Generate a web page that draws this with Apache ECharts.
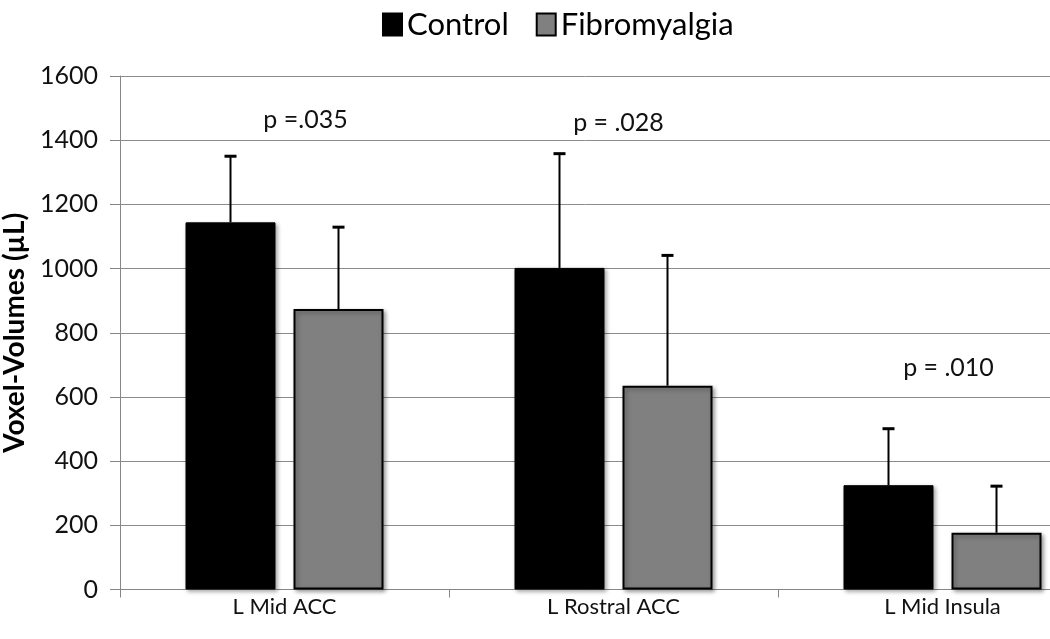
<!DOCTYPE html>
<html>
<head>
<meta charset="utf-8">
<script src="https://cdn.jsdelivr.net/npm/echarts@6/dist/echarts.min.js"></script>
<style>html,body{margin:0;padding:0;background:#fff;}#c{width:1050px;height:639px;}</style>
</head>
<body>
<div id="c"></div>
<script>
const categories = ['L Mid ACC', 'L Rostral ACC', 'L Mid Insula'];
const controlValues = [1144, 1002, 325];
const controlErrorTop = [1350, 1358, 501];
const fibroValues = [874, 635, 177];
const fibroErrorTop = [1129, 1041, 322];
const pLabels = ['p =.035', 'p = .028', 'p = .010'];
const pLabelY = [1462, 1453, 690];
const yTicks = { min: 0, max: 1600, interval: 200 };

const FONT = 'Lato, "Open Sans", sans-serif';
const BAR_W = 90;
const GAP = 18;
const OFF = (BAR_W + GAP) / 2;
const P_OFFSET = [21, 5, 6];

function errorSeries(name, tops, values, dir) {
  return {
    type: 'custom',
    name: name + ' err',
    silent: true,
    z: 5,
    data: tops.map((t, i) => [i, values[i], t]),
    renderItem: function (params, api) {
      const base = api.coord([api.value(0), api.value(1)]);
      const top = api.coord([api.value(0), api.value(2)]);
      const x = base[0] + dir * OFF;
      return {
        type: 'group',
        children: [
          { type: 'line', shape: { x1: x, y1: base[1], x2: x, y2: top[1] }, style: { stroke: '#000', lineWidth: 2 } },
          { type: 'line', shape: { x1: x - 6, y1: top[1], x2: x + 6, y2: top[1] }, style: { stroke: '#000', lineWidth: 3 } }
        ]
      };
    }
  };
}

const chart = echarts.init(document.getElementById('c'), null, { renderer: 'canvas' });
chart.setOption({
  animation: false,
  backgroundColor: '#fff',
  textStyle: { fontFamily: FONT },
  legend: {
    top: 4,
    left: 377,
    icon: 'rect',
    itemWidth: 19,
    itemHeight: 22,
    itemGap: 27,
    data: ['Control', 'Fibromyalgia'],
    textStyle: { fontFamily: FONT, fontSize: 31, color: '#000' }
  },
  grid: { left: 120, width: 987, top: 76, bottom: 49.5, containLabel: false, outerBoundsMode: 'none' },
  xAxis: {
    type: 'category',
    data: categories,
    axisLine: { lineStyle: { color: '#868686', width: 1 } },
    axisTick: { show: true, length: 8, lineStyle: { color: '#868686' } },
    axisLabel: { fontFamily: FONT, fontSize: 22, color: '#111', margin: 6, hideOverlap: false }
  },
  yAxis: {
    type: 'value',
    min: yTicks.min,
    max: yTicks.max,
    interval: yTicks.interval,
    name: 'Voxel-Volumes (µL)',
    nameLocation: 'middle',
    nameGap: 88,
    nameTextStyle: { fontFamily: FONT, fontSize: 28, fontWeight: 'bold', color: '#000' },
    axisLine: { show: true, lineStyle: { color: '#868686', width: 1 } },
    axisTick: { show: true, length: 10, lineStyle: { color: '#868686' } },
    splitLine: { lineStyle: { color: '#8c8c8c', width: 1 } },
    axisLabel: { fontFamily: FONT, fontSize: 25, color: '#111', margin: 22, formatter: (v) => String(v) }
  },
  series: [
    {
      name: 'Control', type: 'bar', data: controlValues, barWidth: BAR_W, barGap: (GAP / BAR_W * 100) + '%',
      itemStyle: { color: '#000', borderColor: '#000', borderWidth: 1, shadowBlur: 4, shadowColor: 'rgba(0,0,0,0.35)', shadowOffsetX: 2, shadowOffsetY: 2 }
    },
    {
      name: 'Fibromyalgia', type: 'bar', data: fibroValues, barWidth: BAR_W,
      itemStyle: { color: '#808080', borderColor: '#000', borderWidth: 2, shadowBlur: 4, shadowColor: 'rgba(0,0,0,0.35)', shadowOffsetX: 2, shadowOffsetY: 2 }
    },
    errorSeries('Control', controlErrorTop, controlValues, -1),
    errorSeries('Fibromyalgia', fibroErrorTop, fibroValues, 1),
    {
      type: 'custom',
      name: 'p',
      silent: true,
      z: 6,
      data: pLabelY.map((y, i) => [i, y]),
      renderItem: function (params, api) {
        const pt = api.coord([api.value(0), api.value(1)]);
        const i = params.dataIndex;
        return {
          type: 'text',
          x: pt[0] + P_OFFSET[i],
          y: pt[1],
          style: { text: pLabels[i], fill: '#111', font: '25px ' + FONT, align: 'center', verticalAlign: 'middle' }
        };
      }
    }
  ]
});
</script>
</body>
</html>
